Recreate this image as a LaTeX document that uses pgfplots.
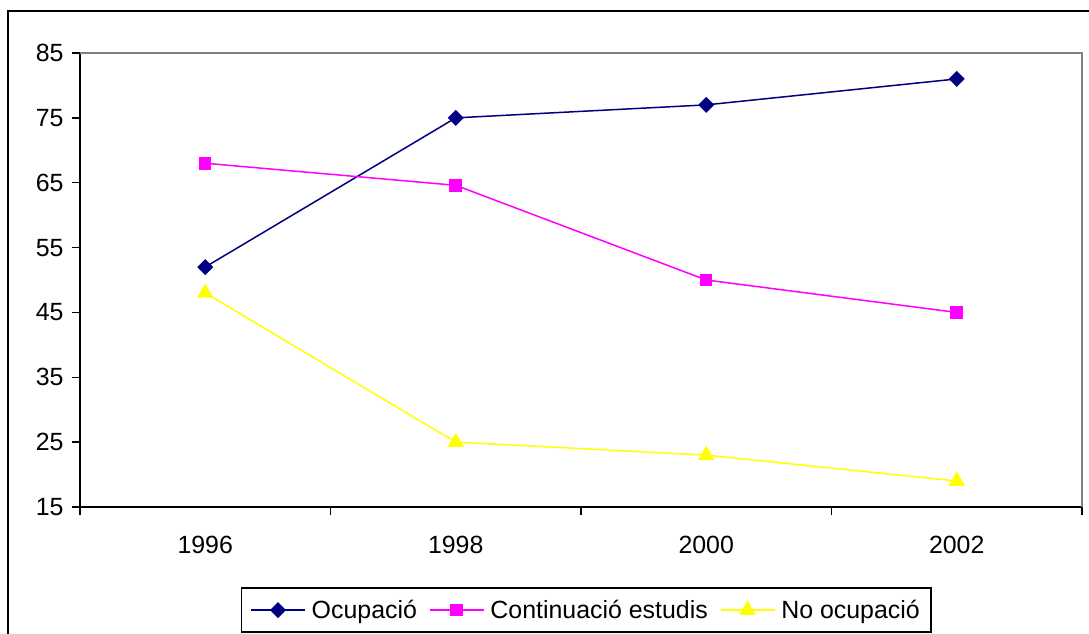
\documentclass[border=0pt]{standalone}
\usepackage{fontspec}
\setmainfont{Liberation Sans}
\usepackage{pgfplots}
\pgfplotsset{compat=1.18}
\definecolor{xlnavy}{RGB}{0,0,128}
\definecolor{xlmag}{RGB}{255,0,255}
\definecolor{xlyel}{RGB}{255,255,0}
\definecolor{xlgray}{RGB}{128,128,128}
\begin{document}
\begin{tikzpicture}
\begin{axis}[
  at={(80bp,127bp)}, anchor=south west,
  width=1002bp, height=454bp, scale only axis,
  xmin=0.5, xmax=4.5, ymin=15, ymax=85,
  ytick={15,25,...,85},
  xtick={0.5,1.5,2.5,3.5,4.5}, xticklabels={,,,,,},
  extra x ticks={1,2,3,4},
  extra x tick labels={1996,1998,2000,2002},
  extra x tick style={major tick length=0pt},
  axis x line*=bottom, axis y line*=left,
  axis line style={black, line width=1.5bp, -},
  tick align=outside,
  every tick/.style={black, line width=1.5bp},
  major tick length=8bp,
  tick label style={font=\fontsize{25}{29}\selectfont},
  /pgf/number format/assume math mode=true,
  yticklabel style={xshift=-5bp},
  xticklabel style={yshift=-26bp},
  clip=false,
  legend columns=3,
  legend style={at={(0.505,-0.227)}, anchor=center, draw=black, line width=1.5bp,
    font=\fontsize{25}{29}\selectfont, inner xsep=9bp, inner ysep=10bp,
    /tikz/every odd column/.append style={column sep=4bp},
    /tikz/every even column/.append style={column sep=10bp}},
  legend image code/.code={\draw[mark repeat=2,mark phase=2] plot coordinates {(0bp,0bp) (27bp,0bp) (54bp,0bp)};},
]
\draw[xlgray, line width=2.5bp] (rel axis cs:0,1) -- (rel axis cs:1,1) -- (rel axis cs:1,0);
\addplot[xlnavy, line width=1.5bp, mark=square*, mark size=4.9bp, mark options={rotate=45, solid, fill=xlnavy}] coordinates {
  (1,52) (2,75) (3,77) (4,81)
};
\addlegendentry{Ocupació}
\addplot[xlmag, line width=1.5bp, mark=square*, mark size=5.5bp, mark options={fill=xlmag}] coordinates {
  (1,68) (2,64.6) (3,50) (4,45)
};
\addlegendentry{Continuació estudis}
\addplot[xlyel, line width=1.5bp, mark=triangle*, mark size=8bp, mark options={fill=xlyel}] coordinates {
  (1,48) (2,25) (3,23) (4,19)
};
\addlegendentry{No ocupació}
\end{axis}
\draw[line width=2bp] (8bp,-20bp) -- (8bp,623bp) -- (1120bp,623bp);
\pgfresetboundingbox
\useasboundingbox (0,0) rectangle (1089bp,634bp);
\end{tikzpicture}
\end{document}
